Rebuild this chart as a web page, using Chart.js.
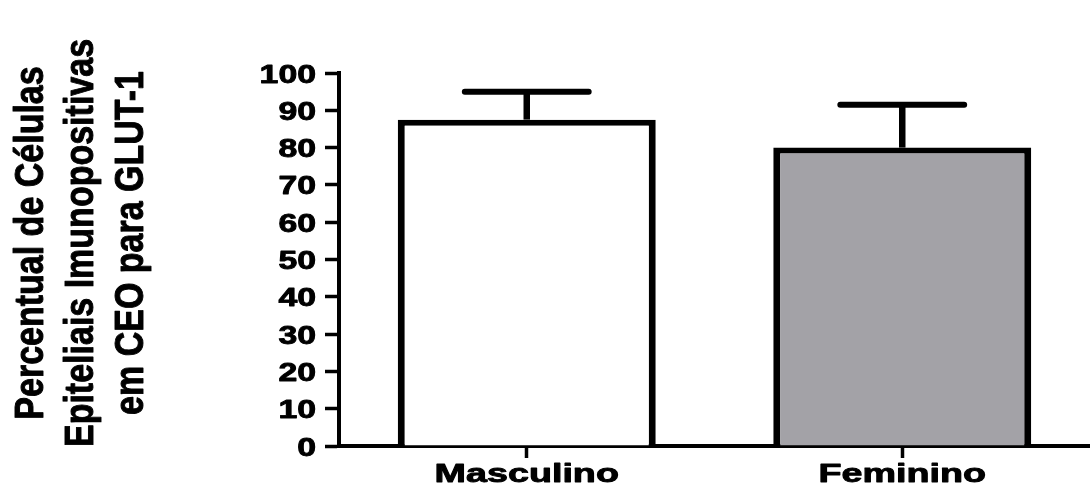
<!DOCTYPE html>
<html>
<head>
<meta charset="utf-8">
<script src="https://cdn.jsdelivr.net/npm/chart.js@4/dist/chart.umd.min.js"></script>
<style>
  html, body { margin: 0; padding: 0; background: #fff; overflow: hidden; }
  #wrap { width: 1090px; height: 487px; position: relative; }
</style>
</head>
<body>
<div id="wrap"><canvas id="c" width="1090" height="487"></canvas></div>
<script>
// Data: mean percentage of GLUT-1 positive epithelial cells, with SD
const categories = ['Masculino', 'Feminino'];
const meanValues = [87.5, 80];
const sdValues = [7.5, 11.5];
const yTickValues = [0, 10, 20, 30, 40, 50, 60, 70, 80, 90, 100];
const yTitleLines = ['Percentual de Células', 'Epiteliais Imunopositivas', 'em CEO para GLUT-1'];
const barFills = ['#ffffff', '#a3a2a7'];

const FONT = '"Liberation Sans", Arial, Helvetica, sans-serif';

// Heavy text: fill plus a thin outline of the same colour
function heavyText(ctx, text, weight) {
  ctx.fillText(text, 0, 0);
  ctx.lineWidth = weight;
  ctx.lineJoin = 'round';
  ctx.strokeText(text, 0, 0);
}

// Text drawn widened horizontally, like the wide bold labels of the figure
function drawStretched(ctx, text, x, y, sx, align) {
  ctx.save();
  ctx.translate(x, y);
  ctx.scale(sx, 1);
  ctx.textAlign = align;
  heavyText(ctx, text, 0.9);
  ctx.restore();
}

// Upper SD whiskers with a wide cap
const errorBars = {
  id: 'errorBars',
  afterDatasetsDraw(chart) {
    const ctx = chart.ctx;
    const meta = chart.getDatasetMeta(0);
    const y = chart.scales.y;
    ctx.save();
    ctx.strokeStyle = '#000';
    meta.data.forEach((bar, i) => {
      const top = y.getPixelForValue(meanValues[i] + sdValues[i]);
      const half = bar.width * 0.24;
      ctx.lineWidth = 6.5;
      ctx.lineCap = 'butt';
      ctx.beginPath();
      ctx.moveTo(bar.x, bar.y);
      ctx.lineTo(bar.x, top);
      ctx.stroke();
      ctx.lineWidth = 6;
      ctx.lineCap = 'round';
      ctx.beginPath();
      ctx.moveTo(bar.x - half, top);
      ctx.lineTo(bar.x + half, top);
      ctx.stroke();
    });
    ctx.restore();
  }
};

// Tick labels, category labels and the three-line rotated axis title
const axisText = {
  id: 'axisText',
  afterDraw(chart) {
    const ctx = chart.ctx;
    const xs = chart.scales.x;
    const ys = chart.scales.y;
    ctx.save();
    ctx.fillStyle = '#000';
    ctx.strokeStyle = '#000';
    ctx.textBaseline = 'alphabetic';
    ctx.font = 'bold 26px ' + FONT;
    yTickValues.forEach(v => {
      drawStretched(ctx, String(v), 316, ys.getPixelForValue(v) + 9.5, 1.3, 'right');
    });
    categories.forEach((c, i) => {
      drawStretched(ctx, c, xs.getPixelForValue(i), 482, 1.45, 'center');
    });
    ctx.font = 'bold 34px ' + FONT;
    const baselines = [43, 93, 143];
    yTitleLines.forEach((t, i) => {
      ctx.save();
      ctx.translate(baselines[i], 243);
      ctx.rotate(-Math.PI / 2);
      ctx.scale(1, 1.2);
      ctx.textAlign = 'center';
      heavyText(ctx, t, 0.8);
      ctx.restore();
    });
    ctx.restore();
  }
};

new Chart(document.getElementById('c'), {
  type: 'bar',
  data: {
    labels: categories,
    datasets: [{
      data: meanValues,
      backgroundColor: barFills,
      borderColor: '#000',
      borderWidth: { left: 7, right: 7, top: 6, bottom: 0 },
      borderSkipped: 'start',
      barPercentage: 0.687,
      categoryPercentage: 1
    }]
  },
  options: {
    responsive: false,
    devicePixelRatio: 1,
    animation: false,
    layout: { padding: { left: 325, top: 73, right: 0, bottom: 29 } },
    plugins: { legend: { display: false }, tooltip: { enabled: false } },
    scales: {
      x: {
        type: 'category',
        offset: true,
        z: 1,
        border: { display: true, color: '#000', width: 4 },
        grid: {
          display: true, drawOnChartArea: false, drawTicks: true,
          tickLength: 12, tickWidth: 3.5, tickColor: '#000', offset: false
        },
        ticks: { display: false }
      },
      y: {
        min: 0,
        max: 100,
        z: 1,
        afterBuildTicks: s => { s.ticks = yTickValues.map(v => ({ value: v })); },
        border: { display: true, color: '#000', width: 4 },
        grid: {
          display: true, drawOnChartArea: false, drawTicks: true,
          tickLength: 14, tickWidth: 3.5, tickColor: '#000'
        },
        ticks: { display: false }
      }
    }
  },
  plugins: [errorBars, axisText]
});
</script>
</body>
</html>
